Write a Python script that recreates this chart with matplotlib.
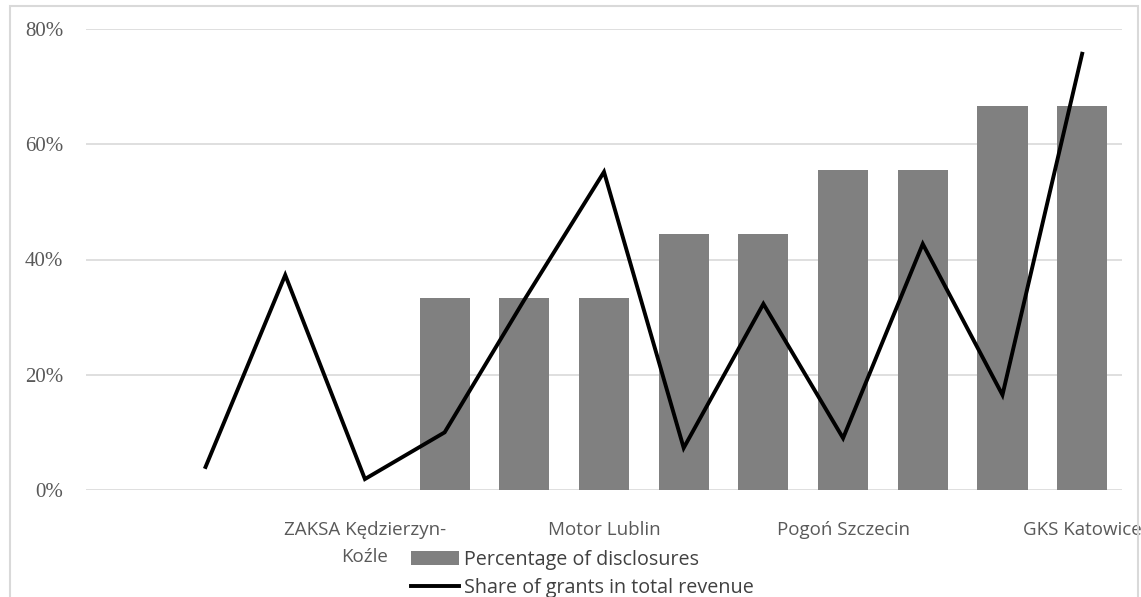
import numpy as np
import matplotlib
matplotlib.use("Agg")
import matplotlib.pyplot as plt
from matplotlib.patches import Patch, Rectangle
from matplotlib.lines import Line2D
from matplotlib.ticker import PercentFormatter

# ---- data ----
categories = ["", "", "", "ZAKSA Kędzierzyn-\nKoźle", "", "", "Motor Lublin",
              "", "", "Pogoń Szczecin", "", "", "GKS Katowice"]
disclosures = [np.nan, np.nan, np.nan, np.nan, 33.3, 33.3, 33.3, 44.4, 44.4,
               55.6, 55.6, 66.7, 66.7]
grants_share = [np.nan, 4.0, 37.3, 1.9, 10.0, 33.0, 55.2, 7.3, 32.3, 9.0,
                42.7, 16.5, 75.7]
y_ticks = [0, 20, 40, 60, 80]
series_names = ["Percentage of disclosures", "Share of grants in total revenue"]

W, H = 1141, 597
fig = plt.figure(figsize=(W / 100, H / 100), dpi=100)
fig.patch.set_facecolor("white")

# outer border
fig.add_artist(Rectangle((10 / W, -0.05), (1138 - 10) / W, 1.05 - 6 / H,
                         transform=fig.transFigure, fill=False,
                         edgecolor="#d9d9d9", linewidth=1.5))

left, right = 86 / W, 1122 / W
bottom, top = 1 - 490 / H, 1 - 29 / H
ax = fig.add_axes([left, bottom, right - left, top - bottom])

x = np.arange(len(categories))
ax.bar(x, disclosures, width=0.63, color="#808080", zorder=2)
ax.plot(x, grants_share, color="black", linewidth=2.8, zorder=3,
        solid_joinstyle="miter")

ax.set_xlim(-0.5, len(categories) - 0.5)
ax.set_ylim(0, 80)
ax.set_yticks(y_ticks)
ax.yaxis.set_major_formatter(PercentFormatter(decimals=0))
ax.grid(axis="y", color="#d9d9d9", linewidth=1.2, zorder=0)
ax.set_axisbelow(True)
for s in ax.spines.values():
    s.set_visible(False)

ax.set_xticks(x)
ax.set_xticklabels(categories, fontfamily="Open Sans", fontsize=13.5,
                   color="#595959", linespacing=1.65)
ax.tick_params(axis="x", length=0, pad=22)
ax.tick_params(axis="y", length=0, pad=16.5, labelsize=15, labelcolor="#595959")
for lab in ax.get_yticklabels():
    lab.set_fontfamily("Liberation Serif")

handles = [Patch(facecolor="#808080", edgecolor="none"),
           Line2D([], [], color="black", linewidth=2.8)]
leg = fig.legend(handles, series_names, loc="upper left",
                 bbox_to_anchor=(411 / W, 1 - 550 / H),
                 frameon=False, prop={"family": "Open Sans", "size": 14.2},
                 handlelength=2.45, handleheight=0.7, handletextpad=0.25,
                 labelspacing=0.4, borderaxespad=0, borderpad=0)
for t in leg.get_texts():
    t.set_color("#404040")

fig.savefig("out.png", dpi=100, facecolor="white")
